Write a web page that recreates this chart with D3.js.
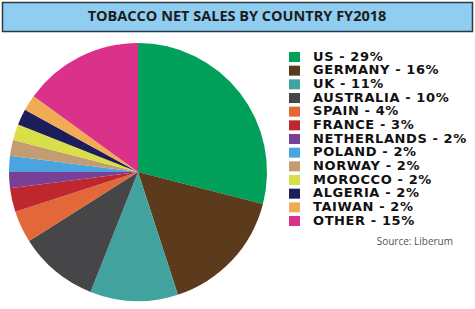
<!DOCTYPE html>
<html>
<head>
<meta charset="utf-8">
<script src="https://cdn.jsdelivr.net/npm/d3@7"></script>
<style>
body { margin: 0; background: #fff; }
svg { display: block; }
</style>
</head>
<body>
<div id="app"></div>
<script>
const countries = ['US', 'GERMANY', 'UK', 'AUSTRALIA', 'SPAIN', 'FRANCE', 'NETHERLANDS', 'POLAND', 'NORWAY', 'MOROCCO', 'ALGERIA', 'TAIWAN', 'OTHER']
const shares = [29, 16, 11, 10, 4, 3, 2, 2, 2, 2, 2, 2, 15]
const colors = ['#00a05a', '#5c3b1c', '#42a29e', '#464648', '#e2683a', '#bf272e', '#7a3f97', '#4ba4df', '#c39c72', '#d8df48', '#1e1d5c', '#f1ab55', '#da318b']

const W = 475, H = 309
const cx = 138, cy = 172, r = 129

let svg = d3.select('#app').append('svg')
  .attr('width', W)
  .attr('height', H)

// title bar
svg.append('rect')
  .attr('x', 2.5).attr('y', 2.5)
  .attr('width', 470).attr('height', 29)
  .attr('fill', '#8fcdf1')
  .attr('stroke', '#2d3a44')
  .attr('stroke-width', 1.5)

svg.append('text')
  .attr('x', 237).attr('y', 17.5)
  .attr('text-anchor', 'middle')
  .attr('dominant-baseline', 'middle')
  .attr('font-family', 'Open Sans, sans-serif')
  .attr('font-weight', 'bold')
  .attr('font-size', 14.5)
  .attr('fill', '#1c1c1c')
  .text('TOBACCO NET SALES BY COUNTRY FY2018')

const data = countries.map((c, i) => ({ name: c, value: shares[i], color: colors[i] }))

const pie = d3.pie().sort(null).value(d => d.value)
const arc = d3.arc().innerRadius(0).outerRadius(r)

svg.append('g')
  .attr('transform', `translate(${cx},${cy})`)
  .selectAll('path')
  .data(pie(data))
  .enter()
  .append('path')
  .attr('d', arc)
  .attr('fill', d => d.data.color)

// legend
const y = d3.scalePoint().domain(countries).range([57, 221])

let legend = svg.append('g')

legend.selectAll('rect')
  .data(data)
  .enter()
  .append('rect')
  .attr('x', 289)
  .attr('y', d => y(d.name) - 5)
  .attr('width', 11)
  .attr('height', 10)
  .attr('fill', d => d.color)

legend.selectAll('text')
  .data(data)
  .enter()
  .append('text')
  .attr('x', 313)
  .attr('y', d => y(d.name))
  .attr('dominant-baseline', 'middle')
  .attr('font-family', 'DejaVu Sans, sans-serif')
  .attr('font-weight', 'bold')
  .attr('font-size', 13)
  .attr('letter-spacing', 0.6)
  .attr('fill', '#111')
  .text(d => `${d.name} - ${d.value}%`)

svg.append('text')
  .attr('x', 453).attr('y', 242)
  .attr('text-anchor', 'end')
  .attr('dominant-baseline', 'middle')
  .attr('font-family', 'Open Sans, sans-serif')
  .attr('font-size', 10)
  .attr('fill', '#555')
  .text('Source: Liberum')
</script>
</body>
</html>
